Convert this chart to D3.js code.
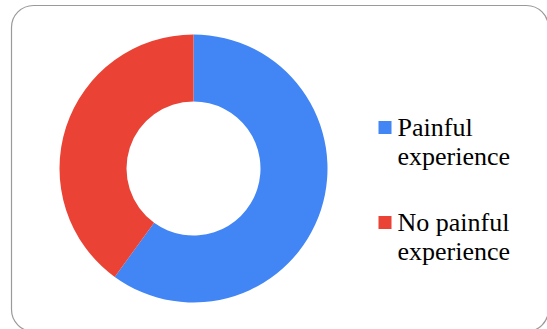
<!DOCTYPE html>
<html>
<head>
<meta charset="utf-8">
<script src="https://cdn.jsdelivr.net/npm/d3@7"></script>
</head>
<body style="margin:0">
<svg id="chart" width="547" height="329"></svg>
<script>
// Survey responses: share of respondents (%)
const categories = ["Painful experience", "No painful experience"];
const values = [60, 40];
const legendLines = ["Painful", "experience", "No painful", "experience"];
const colors = ["#4285F4", "#EA4335"];

const svg = d3.select("#chart");

// Card frame with rounded corners
svg.append("rect")
  .attr("x", 11.5).attr("y", 5.5)
  .attr("width", 537).attr("height", 326)
  .attr("rx", 22).attr("ry", 22)
  .attr("fill", "#ffffff")
  .attr("stroke", "#9a9a9a")
  .attr("stroke-width", 1.2);

// Donut
const cx = 193.5, cy = 168.5, outerR = 134, innerR = 67;
const color = d3.scaleOrdinal().domain(categories).range(colors);
const pie = d3.pie().value(d => d.value).sort(null);
const arc = d3.arc().innerRadius(innerR).outerRadius(outerR);
const data = categories.map((c, i) => ({ name: c, value: values[i] }));

svg.append("g")
  .attr("transform", `translate(${cx},${cy})`)
  .selectAll("path")
  .data(pie(data))
  .join("path")
  .attr("d", arc)
  .attr("fill", d => color(d.data.name));

// Legend swatches
const rows = [121, 216];
const legendX = 378.5;
svg.append("g").selectAll("rect")
  .data(data)
  .join("rect")
  .attr("x", legendX)
  .attr("y", (d, i) => rows[i])
  .attr("width", 13).attr("height", 13)
  .attr("fill", d => color(d.name));

// Legend labels, two lines per entry
const lineY = [rows[0] + 14.7, rows[0] + 43.7, rows[1] + 14.7, rows[1] + 43.7];
svg.selectAll("text")
  .data(legendLines)
  .join("text")
  .attr("x", legendX + 19)
  .attr("y", (d, i) => lineY[i])
  .attr("font-size", 26)
  .style("font-family", "\"Liberation Serif\"")
  .text(d => d);
</script>
</body>
</html>
